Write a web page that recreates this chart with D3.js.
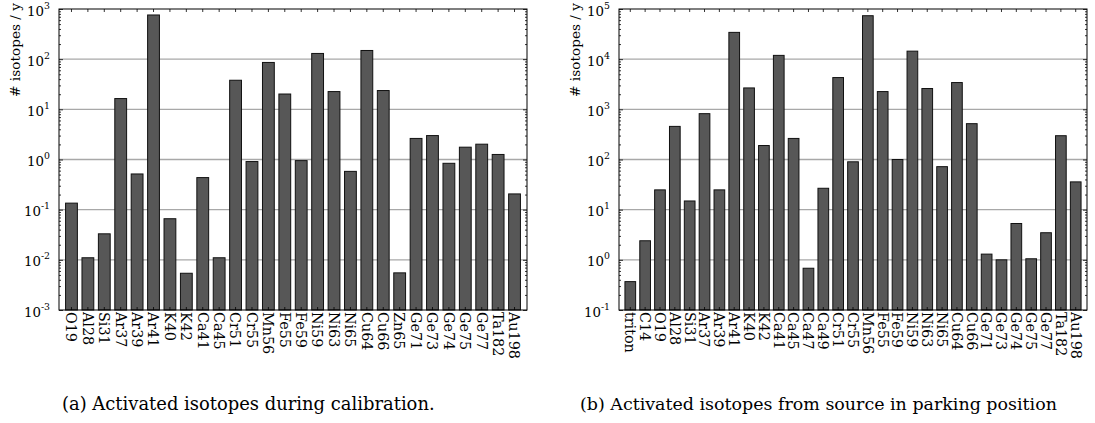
<!doctype html>
<html lang="en">
<head>
<meta charset="utf-8">
<title>Activated isotopes</title>
<style>
  body { margin: 0; background: #fff; }
  svg text { font-family: "DejaVu Serif", serif; fill: #000; }
</style>
</head>
<body>
<svg id="mysvg"></svg>
<script src="https://d3js.org/d3.v7.min.js"></script>
<script>
var width = 1095;
var height = 423;

// (a) calibration
var calibIsotopes = ["O19","Al28","Si31","Ar37","Ar39","Ar41","K40","K42","Ca41","Ca45",
  "Cr51","Cr55","Mn56","Fe55","Fe59","Ni59","Ni63","Ni65","Cu64","Cu66","Zn65",
  "Ge71","Ge73","Ge74","Ge75","Ge77","Ta182","Au198"];
var calibValues = [0.135, 0.011, 0.033, 16.4, 0.515, 760, 0.066, 0.0054, 0.436, 0.011,
  38, 0.91, 86, 20.2, 0.95, 130, 22.6, 0.58, 149, 23.7, 0.0055,
  2.63, 3.0, 0.84, 1.76, 2.02, 1.26, 0.206];
var calibExponents = [-3, -2, -1, 0, 1, 2, 3];

// (b) parking position
var parkIsotopes = ["triton","C14","O19","Al28","Si31","Ar37","Ar39","Ar41","K40","K42",
  "Ca41","Ca45","Ca47","Ca49","Cr51","Cr55","Mn56","Fe55","Fe59","Ni59","Ni63","Ni65",
  "Cu64","Cu66","Ge71","Ge73","Ge74","Ge75","Ge77","Ta182","Au198"];
var parkValues = [0.368, 2.4, 24.8, 457, 14.9, 820, 24.8, 34200, 2670, 190,
  11900, 263, 0.68, 26.7, 4300, 90, 73500, 2260, 100, 14450, 2600, 72,
  3420, 518, 1.3, 1.0, 5.3, 1.05, 3.47, 298, 35.8];
var parkExponents = [-1, 0, 1, 2, 3, 4, 5];

var captions = ["(a) Activated isotopes during calibration.",
  "(b) Activated isotopes from source in parking position"];

var svg = d3.select("#mysvg")
  .attr("width", width)
  .attr("height", height);

var plotTop = 9, plotBottom = 310, plotW = 468;

// scale a text's font so it takes up the given width
var fitSize = function(txt, base, target) {
  var t = svg.append("text").style("font-size", base + "px").text(txt);
  var w = t.node().getComputedTextLength();
  t.remove();
  return base * target / w;
};
var labelSize = fitSize("Au198", 14, 47);
var tickSize = fitSize("10", 13, 17);
var ylabSize = fitSize("# isotopes / y", 12, 94);

var drawPanel = function(left, names, values, exps, caption, capX, capW) {
  var g = svg.append("g").attr("transform", "translate(" + left + "," + plotTop + ")");
  var h = plotBottom - plotTop;

  var x = d3.scaleBand().domain(names).range([0, plotW])
    .paddingInner(0.28).paddingOuter(0.4);
  var y = d3.scaleLog()
    .domain([Math.pow(10, exps[0]), Math.pow(10, exps[exps.length - 1])])
    .range([h, 0]);

  var majors = exps.map(function(e) { return Math.pow(10, e); });
  var minors = [];
  exps.slice(0, -1).forEach(function(e) {
    for (var k = 2; k < 10; k++) minors.push(k * Math.pow(10, e));
  });

  // grid
  g.selectAll(".grid").data(majors.slice(1, -1))
    .enter().append("line")
    .attr("x1", 0).attr("x2", plotW)
    .attr("y1", function(d) { return y(d); })
    .attr("y2", function(d) { return y(d); })
    .style("stroke", "#a8a8a8")
    .style("stroke-width", 1.3);

  // bars
  g.selectAll(".bar").data(values)
    .enter().append("rect")
    .attr("x", function(d, i) { return x(names[i]); })
    .attr("width", x.bandwidth())
    .attr("y", function(d) { return y(d); })
    .attr("height", function(d) { return h - y(d); })
    .style("fill", "#575757")
    .style("stroke", "#111")
    .style("stroke-width", 1);

  // left axis with labels
  var yl = g.append("g").call(d3.axisLeft(y).tickValues(majors).tickSize(-4).tickPadding(9).tickFormat(""));
  yl.selectAll(".tick text").each(function(d) {
    var t = d3.select(this);
    t.style("font-size", tickSize + "px").attr("dy", "0.45em");
    t.append("tspan").text("10");
    t.append("tspan").text(Math.round(Math.log10(d)))
      .style("font-size", (tickSize * 0.7) + "px").attr("dy", "-0.75em");
  });
  g.append("g").call(d3.axisLeft(y).tickValues(minors).tickSize(-2).tickFormat(""));
  // right axis
  g.append("g").attr("transform", "translate(" + plotW + ",0)")
    .call(d3.axisRight(y).tickValues(majors).tickSize(-4).tickFormat(""));
  g.append("g").attr("transform", "translate(" + plotW + ",0)")
    .call(d3.axisRight(y).tickValues(minors).tickSize(-2).tickFormat(""));
  // top axis
  g.append("g").call(d3.axisTop(x).tickSize(-3).tickSizeOuter(0).tickFormat(""));
  // bottom axis
  var xb = g.append("g").attr("transform", "translate(0," + h + ")")
    .call(d3.axisBottom(x).tickSize(-3).tickSizeOuter(0).tickPadding(3));
  xb.selectAll(".tick text")
    .style("font-size", labelSize + "px")
    .attr("text-anchor", "start")
    .attr("y", 0).attr("x", 0).attr("dy", "0.36em")
    .attr("transform", "translate(0,2) rotate(90)");

  g.selectAll(".domain").remove();
  g.selectAll(".tick line").style("stroke", "#000").style("stroke-width", 0.8);

  // frame
  g.append("rect").attr("width", plotW).attr("height", h)
    .style("fill", "none").style("stroke", "#000").style("stroke-width", 1);

  // y label
  g.append("text")
    .attr("transform", "translate(-39,-6) rotate(-90)")
    .attr("text-anchor", "end")
    .style("font-size", ylabSize + "px")
    .text("# isotopes / y");

  svg.append("text")
    .attr("x", capX).attr("y", 410)
    .style("font-size", fitSize(caption, 14, capW) + "px")
    .text(caption);
};

drawPanel(59, calibIsotopes, calibValues, calibExponents, captions[0], 62, 373);
drawPanel(619, parkIsotopes, parkValues, parkExponents, captions[1], 580, 477);
</script>
</body>
</html>
